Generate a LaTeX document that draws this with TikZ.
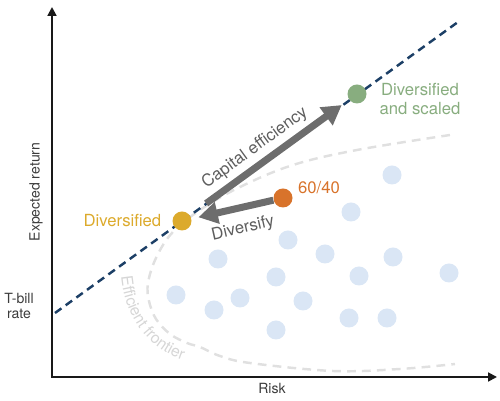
\documentclass[tikz,border=0pt]{standalone}
\usepackage{fontspec}
\setmainfont{TeX Gyre Heros}
\usepackage{xcolor}
\usepackage{tikz}
\usetikzlibrary{arrows.meta, positioning, decorations.text}
\definecolor{cloud}{HTML}{DAE6F5}
\definecolor{scaled}{HTML}{88AD7F}
\definecolor{sixty}{HTML}{D8732B}
\definecolor{divgold}{HTML}{DCAA2C}
\definecolor{cmlnavy}{HTML}{1C3F66}
\definecolor{shaft}{HTML}{6D6D6D}
\definecolor{frontgray}{HTML}{E0E0E0}
\definecolor{frontlbl}{HTML}{D6D6D6}
\definecolor{axisgray}{HTML}{3C3C3C}
\tikzstyle{portfolio} = [circle, inner sep=0pt, minimum size=0.38cm, fill=cloud]
\tikzstyle{keydot} = [circle, inner sep=0pt, minimum size=0.38cm]
\tikzstyle{bigarrow} = [line width=4pt, draw=shaft, -{Triangle[length=11pt, width=12pt]}]
\tikzstyle{axis} = [line width=1.1pt, draw=black!90, {Triangle[length=5pt, width=5pt]}-{Triangle[length=5pt, width=5pt]}]
\tikzstyle{lbl} = [font=\fontsize{9.5}{11}\selectfont, inner sep=1pt]
\tikzstyle{axislbl} = [font=\fontsize{8}{9}\selectfont, text=axisgray, inner sep=1pt, align=center]

\begin{document}
\begin{tikzpicture}[x=0.02cm, y=0.02cm]
    \useasboundingbox (0,0) rectangle (500,401);

    % Axes
    \coordinate (origin) at (52,24);
    \coordinate (ytip) at (52,394);
    \coordinate (xtip) at (497,24);
    \draw[axis] (ytip) -- (origin) -- (xtip);
    \node[axislbl, rotate=90] (ylbl) at (36,209) {Expected return};
    \node[axislbl] (xlbl) at (272,13) {Risk};
    \node[axislbl] (tbill) at (19,95) {T-bill\\rate};

    % Efficient frontier
    \draw[frontgray, line width=1.4pt, dash pattern=on 5pt off 3.5pt]
        plot[smooth, tension=0.6] coordinates {(450,266) (357,251) (293,236) (240,214) (200,191) (172,168) (156,143) (148,118) (149,100) (156,82) (170,67) (187,58) (200,54) (220,45) (250,38) (333,30) (400,32) (455,37)};
    \coordinate (ftop) at (121,137);
    \coordinate (fbot) at (195,38);
    \path[decorate, decoration={text along path, text align=center, text color=frontlbl,
        text={|\fontsize{9}{9}\selectfont|Efficient frontier}}]
        (ftop) .. controls (119,92) and (146,46) .. (fbot);

    % Capital market line
    \coordinate (cmlstart) at (55,88);
    \coordinate (cmlend) at (458,379);
    \draw[cmlnavy, line width=1.4pt, dash pattern=on 4.5pt off 3pt] (cmlstart) -- (cmlend);

    % Other portfolios
    \node[portfolio] (p1) at (392,226) {};
    \node[portfolio] (p2) at (351,189) {};
    \node[portfolio] (p3) at (288,161) {};
    \node[portfolio] (p4) at (325,147) {};
    \node[portfolio] (p5) at (218,142) {};
    \node[portfolio] (p6) at (393,144) {};
    \node[portfolio] (p7) at (359,125) {};
    \node[portfolio] (p8) at (449,128) {};
    \node[portfolio] (p9) at (276,124) {};
    \node[portfolio] (p10) at (176,106) {};
    \node[portfolio] (p11) at (240,103) {};
    \node[portfolio] (p12) at (303,100) {};
    \node[portfolio] (p13) at (214,91) {};
    \node[portfolio] (p14) at (349,83) {};
    \node[portfolio] (p15) at (387,83) {};
    \node[portfolio] (p16) at (276,71) {};

    % Key portfolios
    \node[keydot, fill=divgold] (gold) at (182,180) {};
    \node[keydot, fill=sixty] (mix) at (283,203) {};
    \node[keydot, fill=scaled] (lever) at (357,307) {};
    \node[lbl, text=divgold, left=5pt of gold] (goldlbl) {Diversified};
    \node[lbl, text=sixty] (mixlbl) at (319,213) {60/40};
    \node[lbl, text=scaled, align=center] (leverlbl) at (420,302) {Diversified\\and scaled};

    % Moves
    \draw[bigarrow, shorten <=0.4cm, shorten >=0.18cm] (gold) -- (lever);
    \draw[bigarrow, shorten >=0.14cm] (mix) -- (gold);
    \node[lbl, text=shaft!85!black, rotate=36] (capeff) at (255,253) {Capital efficiency};
    \node[lbl, text=shaft!85!black, rotate=12.8] (divlbl) at (243,172) {Diversify};
\end{tikzpicture}
\end{document}
